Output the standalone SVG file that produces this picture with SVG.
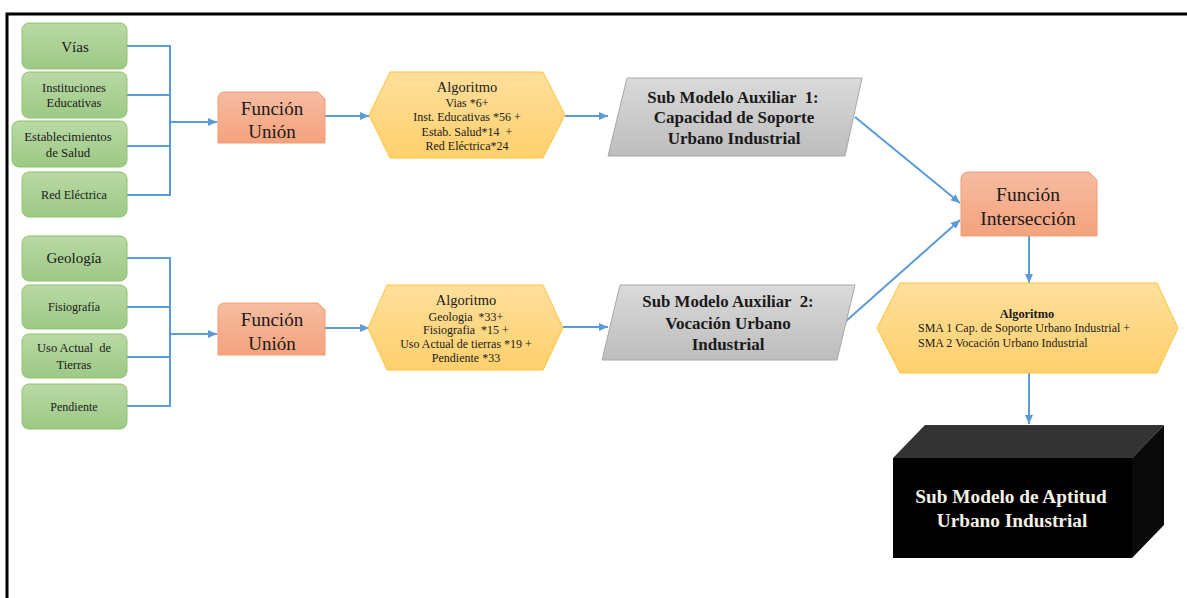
<svg xmlns="http://www.w3.org/2000/svg" width="1187" height="598" viewBox="0 0 1187 598">
<defs>
<linearGradient id="gGreen" x1="0" y1="0" x2="0" y2="1"><stop offset="0" stop-color="#b9d9a5"/><stop offset="1" stop-color="#9dc985"/></linearGradient>
<linearGradient id="gOrange" x1="0" y1="0" x2="0" y2="1"><stop offset="0" stop-color="#f7bca1"/><stop offset="1" stop-color="#f4a27d"/></linearGradient>
<linearGradient id="gYellow" x1="0" y1="0" x2="0" y2="1"><stop offset="0" stop-color="#ffdf9c"/><stop offset="1" stop-color="#ffd06c"/></linearGradient>
<linearGradient id="gGray" x1="0" y1="0" x2="0" y2="1"><stop offset="0" stop-color="#dadada"/><stop offset="1" stop-color="#bdbdbd"/></linearGradient>
<marker id="arr" markerUnits="userSpaceOnUse" markerWidth="10" markerHeight="8" refX="9" refY="4" orient="auto"><path d="M0,0 L9,4 L0,8 Z" fill="#5b9bd5"/></marker>
</defs>
<style>
.green{fill:url(#gGreen);stroke:#8fc36d;stroke-width:1}
.orange{fill:url(#gOrange);stroke:#f29c72;stroke-width:1}
.yellow{fill:url(#gYellow);stroke:#ffc43a;stroke-width:1}
.gray{fill:url(#gGray);stroke:#a8a8a8;stroke-width:1}
.t{fill:#1a1a1a;text-anchor:middle}
.s{text-anchor:start}
.b{font-weight:bold}
.w{fill:#f6f1e6}
.c{fill:none;stroke:#5b9bd5;stroke-width:2}
</style>
<rect width="1187" height="598" fill="#ffffff"/>
<path d="M7,598 V14 H1187" fill="none" stroke="#000" stroke-width="3"/>

<g id="connectors">
<path class="c" d="M127,46 H170 V195 H127 M127,95 H170 M127,146 H170"/>
<path class="c" d="M170,122 H217" marker-end="url(#arr)"/>
<path class="c" d="M127,258 H170 V406 H127 M127,307 H170 M127,357 H170"/>
<path class="c" d="M170,334 H217" marker-end="url(#arr)"/>
<path class="c" d="M325,116 H369" marker-end="url(#arr)"/>
<path class="c" d="M325,328 H369" marker-end="url(#arr)"/>
<path class="c" d="M565,116 H608" marker-end="url(#arr)"/>
<path class="c" d="M563,327 H608" marker-end="url(#arr)"/>
<path class="c" d="M855,117 L960,203" marker-end="url(#arr)"/>
<path class="c" d="M845,322 L960,220" marker-end="url(#arr)"/>
<path class="c" d="M1029,236 V283" marker-end="url(#arr)"/>
<path class="c" d="M1029,373 V424" marker-end="url(#arr)"/>
</g>

<g font-family="'Liberation Serif', 'DejaVu Serif', serif">
<g id="vias"><rect class="green" x="22" y="23" width="105" height="46" rx="7"/><text class="t" x="75" y="52" font-size="15">Vías</text></g>
<g id="instituciones"><rect class="green" x="22" y="72" width="105" height="46" rx="7"/><text class="t" x="74" y="92" font-size="12.5">Instituciones</text><text class="t" x="74" y="107" font-size="12.5">Educativas</text></g>
<g id="establecimientos"><rect class="green" x="12" y="121" width="115" height="46" rx="7"/><text class="t" x="68" y="141" font-size="12.8">Establecimientos</text><text class="t" x="68" y="157" font-size="12.8">de Salud</text></g>
<g id="red-electrica"><rect class="green" x="22" y="172" width="105" height="45" rx="7"/><text class="t" x="74" y="199" font-size="12.2">Red Eléctrica</text></g>

<g id="geologia"><rect class="green" x="22" y="236" width="105" height="45" rx="7"/><text class="t" x="74" y="263" font-size="15">Geología</text></g>
<g id="fisiografia"><rect class="green" x="22" y="285" width="105" height="44" rx="7"/><text class="t" x="74" y="311" font-size="12">Fisiografía</text></g>
<g id="uso-actual"><rect class="green" x="22" y="334" width="105" height="44" rx="7"/><text class="t" x="74" y="352" font-size="12.5" xml:space="preserve">Uso Actual  de</text><text class="t" x="74" y="369" font-size="12.5">Tierras</text></g>
<g id="pendiente"><rect class="green" x="22" y="384" width="105" height="45" rx="7"/><text class="t" x="74" y="411" font-size="12">Pendiente</text></g>

<g id="funcion-union-1"><path class="orange" d="M218,143 V99 Q218,92 225,92 H318 L325,99 V143 Z"/><text class="t" x="272" y="115" font-size="19">Función</text><text class="t" x="272" y="138" font-size="19">Unión</text></g>
<g id="funcion-union-2"><path class="orange" d="M218,355 V310 Q218,303 225,303 H318 L325,310 V355 Z"/><text class="t" x="272" y="326" font-size="19">Función</text><text class="t" x="272" y="350" font-size="19">Unión</text></g>

<g id="algoritmo-1"><path class="yellow" d="M369,115 L390,72 H543 L565,115 L543,158 H390 Z"/>
<text class="t" x="467" y="92" font-size="14.5">Algoritmo</text>
<text class="t" x="467" y="107" font-size="12">Vias *6+</text>
<text class="t" x="467" y="121" font-size="12">Inst. Educativas *56 +</text>
<text class="t" x="467" y="136" font-size="12" xml:space="preserve">Estab. Salud*14  +</text>
<text class="t" x="467" y="150" font-size="12">Red Eléctrica*24</text></g>
<g id="algoritmo-2"><path class="yellow" d="M368,328 L387,285 H543 L563,328 L543,370 H387 Z"/>
<text class="t" x="466" y="305" font-size="14.5">Algoritmo</text>
<text class="t" x="466" y="321" font-size="12" xml:space="preserve">Geologia  *33+</text>
<text class="t" x="466" y="334" font-size="12" xml:space="preserve">Fisiografia  *15 +</text>
<text class="t" x="466" y="348" font-size="12">Uso Actual de tierras *19 +</text>
<text class="t" x="466" y="362" font-size="12">Pendiente *33</text></g>

<g id="sub-modelo-1"><path class="gray" d="M627,78 H862 L845,156 H608 Z"/>
<text class="t b" x="733" y="103" font-size="16.8" xml:space="preserve">Sub Modelo Auxiliar  1:</text>
<text class="t b" x="734" y="123" font-size="17">Capacidad de Soporte</text>
<text class="t b" x="734" y="144" font-size="17">Urbano Industrial</text></g>
<g id="sub-modelo-2"><path class="gray" d="M620,285 H855 L837,360 H602 Z"/>
<text class="t b" x="728" y="307" font-size="16.8" xml:space="preserve">Sub Modelo Auxiliar  2:</text>
<text class="t b" x="728" y="329" font-size="17">Vocación Urbano</text>
<text class="t b" x="728" y="350" font-size="17">Industrial</text></g>

<g id="funcion-interseccion"><path class="orange" d="M961,236 V180 Q961,172 969,172 H1089 L1097,180 V236 Z"/><text class="t" x="1028" y="201" font-size="19.5">Función</text><text class="t" x="1028" y="225" font-size="19.5">Intersección</text></g>

<g id="algoritmo-3"><path class="yellow" d="M877,328 L900,283 H1157 L1178,328 L1157,373 H900 Z"/>
<text class="t b" x="1027" y="318" font-size="12.4">Algoritmo</text>
<text class="t s" x="918" y="332" font-size="12">SMA 1 Cap. de Soporte Urbano Industrial +</text>
<text class="t s" x="918" y="347" font-size="12">SMA 2 Vocación Urbano Industrial</text></g>

<g id="sub-modelo-aptitud">
<path d="M893,458 L925,425 H1164 L1132,458 Z" fill="#333333"/>
<path d="M1132,458 L1164,425 V525 L1132,558 Z" fill="#0a0a0a"/>
<rect x="893" y="458" width="239" height="100" fill="#000000"/>
<text class="t b w" x="1011" y="503" font-size="19.3">Sub Modelo de Aptitud</text>
<text class="t b w" x="1012" y="527" font-size="19.3">Urbano Industrial</text>
</g>
</g>
</svg>
